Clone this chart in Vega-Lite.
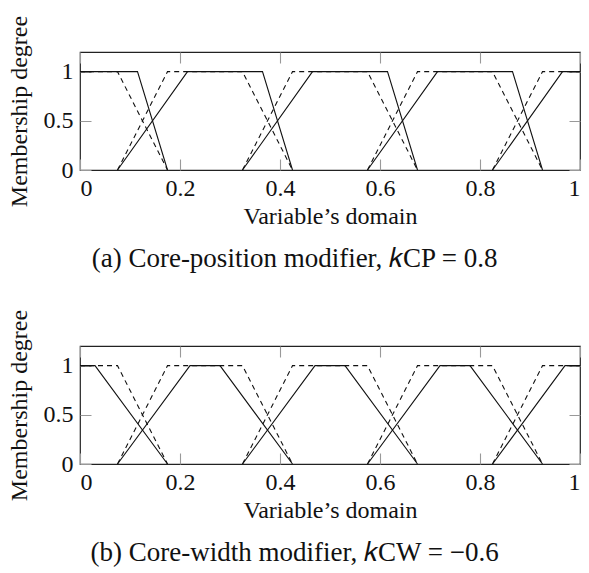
{
  "$schema": "https://vega.github.io/schema/vega-lite/v6.json",
  "padding": {"left": 6, "top": 14, "right": 3, "bottom": 0},
  "spacing": 35,
  "config": {
    "font": "Liberation Serif",
    "view": {"stroke": "#222", "strokeWidth": 1.2},
    "axis": {
      "domain": false, "ticks": false,
      "labelFont": "Liberation Serif", "labelFontSize": 24, "labelColor": "#111",
      "titleFont": "Liberation Serif", "titleFontSize": 24, "titleFontWeight": "normal", "titleColor": "#111"
    },
    "title": {"font": "Liberation Serif", "fontSize": 27, "fontWeight": "normal", "color": "#111"}
  },
  "datasets": {
    "mf": [
      {"panel": "a", "kind": "original", "set": 1, "x": 0, "y": 1},
      {"panel": "a", "kind": "original", "set": 1, "x": 0.075, "y": 1},
      {"panel": "a", "kind": "original", "set": 1, "x": 0.175, "y": 0},
      {"panel": "a", "kind": "original", "set": 2, "x": 0.075, "y": 0},
      {"panel": "a", "kind": "original", "set": 2, "x": 0.175, "y": 1},
      {"panel": "a", "kind": "original", "set": 2, "x": 0.325, "y": 1},
      {"panel": "a", "kind": "original", "set": 2, "x": 0.425, "y": 0},
      {"panel": "a", "kind": "original", "set": 3, "x": 0.325, "y": 0},
      {"panel": "a", "kind": "original", "set": 3, "x": 0.425, "y": 1},
      {"panel": "a", "kind": "original", "set": 3, "x": 0.575, "y": 1},
      {"panel": "a", "kind": "original", "set": 3, "x": 0.675, "y": 0},
      {"panel": "a", "kind": "original", "set": 4, "x": 0.575, "y": 0},
      {"panel": "a", "kind": "original", "set": 4, "x": 0.675, "y": 1},
      {"panel": "a", "kind": "original", "set": 4, "x": 0.825, "y": 1},
      {"panel": "a", "kind": "original", "set": 4, "x": 0.925, "y": 0},
      {"panel": "a", "kind": "original", "set": 5, "x": 0.825, "y": 0},
      {"panel": "a", "kind": "original", "set": 5, "x": 0.925, "y": 1},
      {"panel": "a", "kind": "original", "set": 5, "x": 1, "y": 1},
      {"panel": "a", "kind": "modified", "set": 1, "x": 0, "y": 1},
      {"panel": "a", "kind": "modified", "set": 1, "x": 0.115, "y": 1},
      {"panel": "a", "kind": "modified", "set": 1, "x": 0.175, "y": 0},
      {"panel": "a", "kind": "modified", "set": 2, "x": 0.075, "y": 0},
      {"panel": "a", "kind": "modified", "set": 2, "x": 0.215, "y": 1},
      {"panel": "a", "kind": "modified", "set": 2, "x": 0.365, "y": 1},
      {"panel": "a", "kind": "modified", "set": 2, "x": 0.425, "y": 0},
      {"panel": "a", "kind": "modified", "set": 3, "x": 0.325, "y": 0},
      {"panel": "a", "kind": "modified", "set": 3, "x": 0.465, "y": 1},
      {"panel": "a", "kind": "modified", "set": 3, "x": 0.615, "y": 1},
      {"panel": "a", "kind": "modified", "set": 3, "x": 0.675, "y": 0},
      {"panel": "a", "kind": "modified", "set": 4, "x": 0.575, "y": 0},
      {"panel": "a", "kind": "modified", "set": 4, "x": 0.715, "y": 1},
      {"panel": "a", "kind": "modified", "set": 4, "x": 0.865, "y": 1},
      {"panel": "a", "kind": "modified", "set": 4, "x": 0.925, "y": 0},
      {"panel": "a", "kind": "modified", "set": 5, "x": 0.825, "y": 0},
      {"panel": "a", "kind": "modified", "set": 5, "x": 0.965, "y": 1},
      {"panel": "a", "kind": "modified", "set": 5, "x": 1, "y": 1},
      {"panel": "b", "kind": "original", "set": 1, "x": 0, "y": 1},
      {"panel": "b", "kind": "original", "set": 1, "x": 0.075, "y": 1},
      {"panel": "b", "kind": "original", "set": 1, "x": 0.175, "y": 0},
      {"panel": "b", "kind": "original", "set": 2, "x": 0.075, "y": 0},
      {"panel": "b", "kind": "original", "set": 2, "x": 0.175, "y": 1},
      {"panel": "b", "kind": "original", "set": 2, "x": 0.325, "y": 1},
      {"panel": "b", "kind": "original", "set": 2, "x": 0.425, "y": 0},
      {"panel": "b", "kind": "original", "set": 3, "x": 0.325, "y": 0},
      {"panel": "b", "kind": "original", "set": 3, "x": 0.425, "y": 1},
      {"panel": "b", "kind": "original", "set": 3, "x": 0.575, "y": 1},
      {"panel": "b", "kind": "original", "set": 3, "x": 0.675, "y": 0},
      {"panel": "b", "kind": "original", "set": 4, "x": 0.575, "y": 0},
      {"panel": "b", "kind": "original", "set": 4, "x": 0.675, "y": 1},
      {"panel": "b", "kind": "original", "set": 4, "x": 0.825, "y": 1},
      {"panel": "b", "kind": "original", "set": 4, "x": 0.925, "y": 0},
      {"panel": "b", "kind": "original", "set": 5, "x": 0.825, "y": 0},
      {"panel": "b", "kind": "original", "set": 5, "x": 0.925, "y": 1},
      {"panel": "b", "kind": "original", "set": 5, "x": 1, "y": 1},
      {"panel": "b", "kind": "modified", "set": 1, "x": 0, "y": 1},
      {"panel": "b", "kind": "modified", "set": 1, "x": 0.03, "y": 1},
      {"panel": "b", "kind": "modified", "set": 1, "x": 0.175, "y": 0},
      {"panel": "b", "kind": "modified", "set": 2, "x": 0.075, "y": 0},
      {"panel": "b", "kind": "modified", "set": 2, "x": 0.22, "y": 1},
      {"panel": "b", "kind": "modified", "set": 2, "x": 0.28, "y": 1},
      {"panel": "b", "kind": "modified", "set": 2, "x": 0.425, "y": 0},
      {"panel": "b", "kind": "modified", "set": 3, "x": 0.325, "y": 0},
      {"panel": "b", "kind": "modified", "set": 3, "x": 0.47, "y": 1},
      {"panel": "b", "kind": "modified", "set": 3, "x": 0.53, "y": 1},
      {"panel": "b", "kind": "modified", "set": 3, "x": 0.675, "y": 0},
      {"panel": "b", "kind": "modified", "set": 4, "x": 0.575, "y": 0},
      {"panel": "b", "kind": "modified", "set": 4, "x": 0.72, "y": 1},
      {"panel": "b", "kind": "modified", "set": 4, "x": 0.78, "y": 1},
      {"panel": "b", "kind": "modified", "set": 4, "x": 0.925, "y": 0},
      {"panel": "b", "kind": "modified", "set": 5, "x": 0.825, "y": 0},
      {"panel": "b", "kind": "modified", "set": 5, "x": 0.97, "y": 1},
      {"panel": "b", "kind": "modified", "set": 5, "x": 1, "y": 1}
    ]
  },
  "vconcat": [
    {
      "width": 500, "height": 118,
      "title": {"text": "(a) Core-position modifier, 𝑘CP = 0.8", "orient": "bottom", "frame": "bounds", "anchor": "middle", "offset": 18},
      "data": {"name": "mf"},
      "transform": [{"filter": "datum.panel === 'a'"}],
      "layer": [
        {
          "transform": [{"filter": "datum.kind === 'original'"}],
          "mark": {"type": "line", "color": "#111", "strokeWidth": 1.1, "strokeDash": [5, 4]},
          "encoding": {
            "x": {"field": "x", "type": "quantitative", "scale": {"domain": [0, 1], "nice": false},
                  "axis": {"orient": "bottom", "values": [0, 0.2, 0.4, 0.6, 0.8, 1], "format": "~g", "labelPadding": 6, "grid": true, "gridColor": "#999", "gridWidth": 1.1, "gridOpacity": 1, "gridDash": [11, 96, 11, 200], "title": "Variable’s domain", "titlePadding": 4}},
            "y": {"field": "y", "type": "quantitative", "scale": {"domain": [0, 1.2], "nice": false},
                  "axis": {"orient": "left", "values": [0, 0.5, 1], "format": "~g", "labelPadding": 7, "grid": true, "gridColor": "#999", "gridWidth": 1.1, "gridOpacity": 1, "gridDash": [11, 478, 11, 600], "title": "Membership degree", "titlePadding": 12}},
            "detail": {"field": "set"}
          }
        },
        {
          "transform": [{"filter": "datum.kind === 'modified'"}],
          "mark": {"type": "line", "color": "#111", "strokeWidth": 1.1},
          "encoding": {
            "x": {"field": "x", "type": "quantitative"},
            "y": {"field": "y", "type": "quantitative"},
            "detail": {"field": "set"}
          }
        }
      ]
    },
    {
      "width": 500, "height": 118,
      "title": {"text": "(b) Core-width modifier, 𝑘CW = −0.6", "orient": "bottom", "frame": "bounds", "anchor": "middle", "offset": 18},
      "data": {"name": "mf"},
      "transform": [{"filter": "datum.panel === 'b'"}],
      "layer": [
        {
          "transform": [{"filter": "datum.kind === 'original'"}],
          "mark": {"type": "line", "color": "#111", "strokeWidth": 1.1, "strokeDash": [5, 4]},
          "encoding": {
            "x": {"field": "x", "type": "quantitative", "scale": {"domain": [0, 1], "nice": false},
                  "axis": {"orient": "bottom", "values": [0, 0.2, 0.4, 0.6, 0.8, 1], "format": "~g", "labelPadding": 6, "grid": true, "gridColor": "#999", "gridWidth": 1.1, "gridOpacity": 1, "gridDash": [11, 96, 11, 200], "title": "Variable’s domain", "titlePadding": 4}},
            "y": {"field": "y", "type": "quantitative", "scale": {"domain": [0, 1.2], "nice": false},
                  "axis": {"orient": "left", "values": [0, 0.5, 1], "format": "~g", "labelPadding": 7, "grid": true, "gridColor": "#999", "gridWidth": 1.1, "gridOpacity": 1, "gridDash": [11, 478, 11, 600], "title": "Membership degree", "titlePadding": 12}},
            "detail": {"field": "set"}
          }
        },
        {
          "transform": [{"filter": "datum.kind === 'modified'"}],
          "mark": {"type": "line", "color": "#111", "strokeWidth": 1.1},
          "encoding": {
            "x": {"field": "x", "type": "quantitative"},
            "y": {"field": "y", "type": "quantitative"},
            "detail": {"field": "set"}
          }
        }
      ]
    }
  ]
}
